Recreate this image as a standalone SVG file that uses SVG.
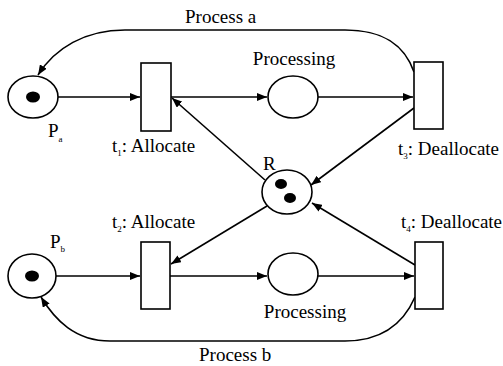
<svg xmlns="http://www.w3.org/2000/svg" width="503" height="366" viewBox="0 0 503 366">
<defs>
<style>
.pl{fill:#fff;stroke:#000;stroke-width:1.6}
.tr{fill:#fff;stroke:#000;stroke-width:1.6}
.tk{fill:#000}
.ed{fill:none;stroke:#000;stroke-width:1.6}
.lb{font-family:"Liberation Serif","Times New Roman",serif;font-size:19px;fill:#000}
.sb{font-size:9px}
</style>
<marker id="ah" viewBox="0 0 10 8" refX="10" refY="4" markerWidth="10" markerHeight="8" markerUnits="userSpaceOnUse" orient="auto">
<path d="M0,0 L10,4 L0,8 Z" fill="#000"/>
</marker>
</defs>
<rect width="503" height="366" fill="#fff"/>
<g id="connectors">
<path class="ed" d="M58,97 L140,97" marker-end="url(#ah)"/>
<path class="ed" d="M171,97 L267,97" marker-end="url(#ah)"/>
<path class="ed" d="M318,97 L413,97" marker-end="url(#ah)"/>
<path class="ed" d="M265,180 L172,98" marker-end="url(#ah)"/>
<path class="ed" d="M414,108 L311,185" marker-end="url(#ah)"/>
<path class="ed" d="M267,206 L171,264" marker-end="url(#ah)"/>
<path class="ed" d="M415,265 L312,203" marker-end="url(#ah)"/>
<path class="ed" d="M56,276 L140,276" marker-end="url(#ah)"/>
<path class="ed" d="M170,276 L267,276" marker-end="url(#ah)"/>
<path class="ed" d="M318,276 L414,276" marker-end="url(#ah)"/>
<path class="ed" d="M414,72 C405,46 385,30 345,30 L125,30 C85,30 55,48 38,75" marker-end="url(#ah)"/>
<path class="ed" d="M415,297 C405,320 385,341 345,341 L110,341 C75,341 55,320 41,297" marker-end="url(#ah)"/>
</g>
<g id="Pa">
<ellipse class="pl" cx="33" cy="97" rx="25" ry="21"/>
<ellipse class="tk" cx="33" cy="97" rx="7" ry="5.5"/>
<text class="lb" x="48" y="137">P<tspan class="sb" dy="5">a</tspan></text>
</g>
<g id="Pb">
<ellipse class="pl" cx="32" cy="276" rx="24" ry="22"/>
<ellipse class="tk" cx="32" cy="276" rx="7" ry="5.5"/>
<text class="lb" x="50" y="248">P<tspan class="sb" dy="4">b</tspan></text>
</g>
<g id="t1">
<rect class="tr" x="141" y="63" width="30" height="68"/>
<text class="lb" x="112" y="152">t<tspan class="sb" dy="4">1</tspan><tspan dy="-4">: Allocate</tspan></text>
</g>
<g id="t2">
<rect class="tr" x="141" y="242" width="29" height="67"/>
<text class="lb" x="112" y="228">t<tspan class="sb" dy="4">2</tspan><tspan dy="-4">: Allocate</tspan></text>
</g>
<g id="t3">
<rect class="tr" x="414" y="62" width="29" height="67"/>
<text class="lb" x="398" y="155">t<tspan class="sb" dy="4">3</tspan><tspan dy="-4">: Deallocate</tspan></text>
</g>
<g id="t4">
<rect class="tr" x="415" y="242" width="28" height="67"/>
<text class="lb" x="401" y="228">t<tspan class="sb" dy="4">4</tspan><tspan dy="-4">: Deallocate</tspan></text>
</g>
<g id="ProcA">
<ellipse class="pl" cx="293" cy="97" rx="25" ry="21"/>
<text class="lb" x="294" y="65" text-anchor="middle">Processing</text>
</g>
<g id="ProcB">
<ellipse class="pl" cx="293" cy="274" rx="25" ry="21"/>
<text class="lb" x="305" y="318" text-anchor="middle">Processing</text>
</g>
<g id="R">
<ellipse class="pl" cx="287" cy="192" rx="25" ry="22"/>
<ellipse class="tk" cx="281" cy="184" rx="6" ry="5"/>
<ellipse class="tk" cx="290" cy="198" rx="6" ry="5"/>
<text class="lb" x="263" y="170">R</text>
</g>
<g id="labels">
<text class="lb" x="185" y="23">Process a</text>
<text class="lb" x="199" y="361">Process b</text>
</g>
</svg>
